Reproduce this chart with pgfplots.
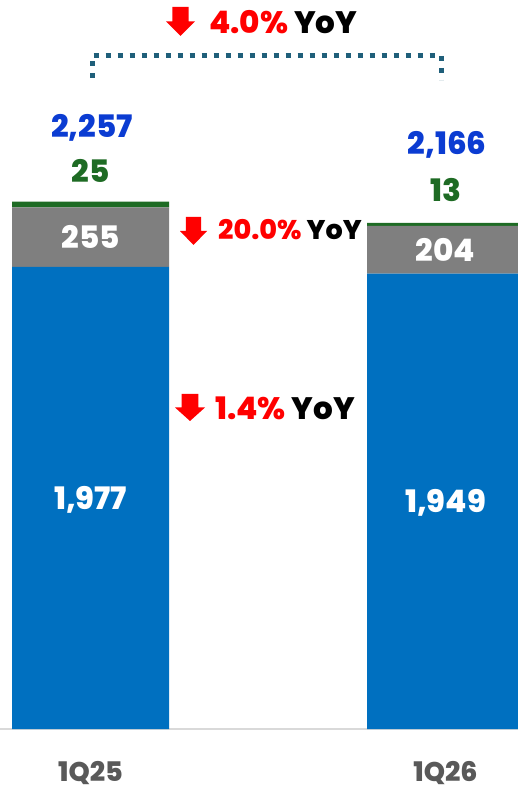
\documentclass[border=0pt]{standalone}
\usepackage{pgfplots}
\pgfplotsset{compat=1.18}
\usepackage{fontspec}
\setmainfont{Poppins}[BoldFont={Poppins ExtraBold}]
\definecolor{barblue}{HTML}{0070C0}
\definecolor{bargray}{HTML}{7F7F7F}
\definecolor{bargreen}{HTML}{1E6B24}
\definecolor{totblue}{HTML}{0B3CD2}
\definecolor{catgray}{HTML}{595959}
\definecolor{brk}{HTML}{1F5F7A}
\definecolor{arrred}{HTML}{FF0000}
\newcommand{\bigf}{\bfseries\fontsize{31}{38}\selectfont}
\newcommand{\midf}{\bfseries\fontsize{27}{34}\selectfont}
% #1 left X, #2 top Y (image px), #3 width, #4 height
\newcommand{\downarr}[4]{%
 \fill[arrred] ({#1+0.22*#3},{729-#2}) -- ({#1+0.78*#3},{729-#2}) -- ({#1+0.78*#3},{729-#2-0.5*#4}) -- ({#1+#3},{729-#2-0.5*#4}) -- ({#1+0.5*#3},{729-#2-#4}) -- ({#1},{729-#2-0.5*#4}) -- ({#1+0.22*#3},{729-#2-0.5*#4}) -- cycle;}
\begin{document}
\begin{tikzpicture}
\begin{axis}[
  at={(0,0)}, anchor=south west,
  scale only axis, width=518pt, height=729pt,
  xmin=0, xmax=518, ymin=0, ymax=3119.5,
  ybar stacked, bar width=157,
  axis x line*=bottom, hide y axis,
  x axis line style={draw=gray!30, line width=1.5pt, -},
  xtick={90.5,445.5}, xticklabels={1Q25,1Q26},
  major tick length=0pt,
  xticklabel style={anchor=base, inner sep=0pt, yshift=-52pt, font=\bfseries\fontsize{27}{34}\selectfont, text=catgray},
  clip mode=individual,
  after end axis/.code={
    \node[anchor=base, yshift=-11.5pt, text=white, font=\bigf] at (axis cs:90.5,988.5) {1,977};
    \node[anchor=base, yshift=-11.5pt, text=white, font=\bigf] at (axis cs:445.5,974.5) {1,949};
    \node[anchor=base, yshift=-11.5pt, text=white, font=\bigf] at (axis cs:90.5,2104.5) {255};
    \node[anchor=base, yshift=-11.5pt, text=white, font=\bigf] at (axis cs:445.5,2051) {204};
    \node[anchor=base, yshift=19pt, text=bargreen, font=\bigf] at (axis cs:90.5,2257) {25};
    \node[anchor=base, yshift=21pt, text=bargreen, font=\bigf] at (axis cs:445.5,2166) {13};
    \node[anchor=base, yshift=64pt, text=totblue, font=\bigf] at (axis cs:92,2257) {2,257};
    \node[anchor=base, yshift=68pt, text=totblue, font=\bigf] at (axis cs:447,2166) {2,166};
  },
]
\addplot[fill=barblue, draw=none] coordinates {(90.5,1977) (445.5,1949)};
\addplot[fill=bargray, draw=none] coordinates {(90.5,255) (445.5,204)};
\addplot[fill=bargreen, draw=none] coordinates {(90.5,25) (445.5,13)};
\end{axis}
\begin{scope}[x=1pt, y=1pt]
 \draw[brk, line width=5pt, dash pattern=on 5pt off 7pt] (92,{729-78}) -- (92,{729-55.5}) -- (441,{729-55.5}) -- (441,{729-80});
 \downarr{166}{7}{29}{29}
 \node[anchor=base west, inner sep=0pt, font=\bigf] at (209,{729-34}) {\textcolor{arrred}{4.0\%} YoY};
 \downarr{180}{217}{27}{28}
 \node[anchor=base west, inner sep=0pt, font=\midf] at (218,{729-240}) {\textcolor{arrred}{20.0\%} YoY};
 \downarr{175}{394}{30}{27}
 \node[anchor=base west, inner sep=0pt, font=\bigf] at (215,{729-420}) {\textcolor{arrred}{1.4\%} YoY};
\end{scope}
\pgfresetboundingbox
\useasboundingbox (0,-61pt) rectangle (518pt,729pt);
\end{tikzpicture}
\end{document}
